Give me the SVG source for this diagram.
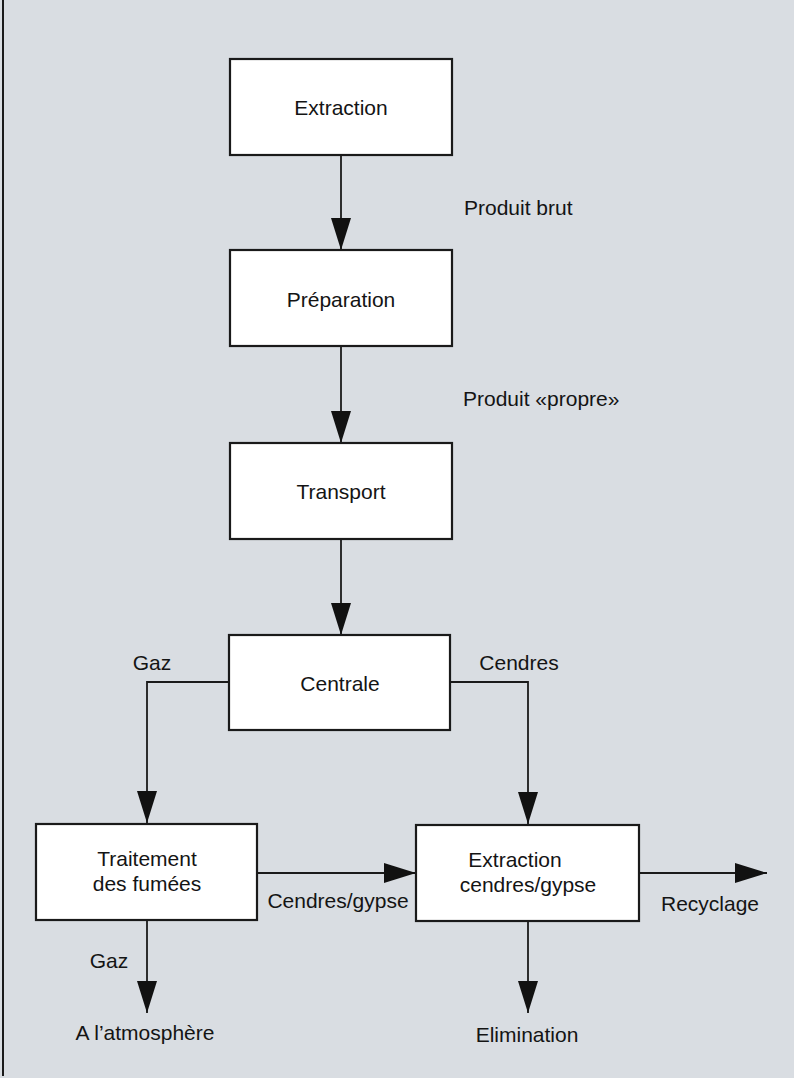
<svg xmlns="http://www.w3.org/2000/svg" width="794" height="1078" viewBox="0 0 794 1078">
<defs>
<style>
.box{fill:#ffffff;stroke:#1a1a1a;stroke-width:2.2}
.ln{fill:none;stroke:#1a1a1a;stroke-width:1.8}
text{font-family:"Liberation Sans",Arial,sans-serif;font-size:21px;fill:#141414}
.c{text-anchor:middle}
</style>
<marker id="ah" markerUnits="userSpaceOnUse" markerWidth="32" markerHeight="22" refX="32" refY="10" orient="auto">
<path d="M0,0 L32,10 L0,20 Z" fill="#111"/>
</marker>
</defs>
<rect x="0" y="0" width="794" height="1078" fill="#d9dde2"/>
<line x1="3" y1="0" x2="3" y2="1076" stroke="#1a1a1a" stroke-width="2"/>

<g id="connectors">
<line class="ln" x1="341" y1="155" x2="341" y2="250" marker-end="url(#ah)"/>
<line class="ln" x1="341" y1="346" x2="341" y2="443" marker-end="url(#ah)"/>
<line class="ln" x1="341" y1="539" x2="341" y2="635" marker-end="url(#ah)"/>
<polyline class="ln" points="229,682 147,682 147,823" marker-end="url(#ah)"/>
<polyline class="ln" points="450,682 528,682 528,824" marker-end="url(#ah)"/>
<line class="ln" x1="257" y1="873" x2="416" y2="873" marker-end="url(#ah)"/>
<line class="ln" x1="639" y1="873" x2="767" y2="873" marker-end="url(#ah)"/>
<line class="ln" x1="147" y1="920" x2="147" y2="1013" marker-end="url(#ah)"/>
<line class="ln" x1="528" y1="921" x2="528" y2="1013" marker-end="url(#ah)"/>
<text x="464" y="215">Produit brut</text>
<text x="463" y="406">Produit  «propre»</text>
<text x="152" y="670" class="c">Gaz</text>
<text x="519" y="670" class="c">Cendres</text>
<text x="338" y="908" class="c">Cendres/gypse</text>
<text x="710" y="911" class="c">Recyclage</text>
<text x="109" y="968" class="c">Gaz</text>
<text x="145" y="1040" class="c">A l’atmosphère</text>
<text x="527" y="1042" class="c">Elimination</text>
</g>

<g id="n-extraction">
<rect class="box" x="230" y="59" width="222" height="96"/>
<text x="341" y="115" class="c">Extraction</text>
</g>
<g id="n-preparation">
<rect class="box" x="230" y="250" width="222" height="96"/>
<text x="341" y="307" class="c">Préparation</text>
</g>
<g id="n-transport">
<rect class="box" x="230" y="443" width="222" height="96"/>
<text x="341" y="499" class="c">Transport</text>
</g>
<g id="n-centrale">
<rect class="box" x="229" y="635" width="221" height="95"/>
<text x="340" y="691" class="c">Centrale</text>
</g>
<g id="n-traitement">
<rect class="box" x="36" y="824" width="221" height="96"/>
<text x="147" y="866" class="c">Traitement</text>
<text x="147" y="891" class="c">des fumées</text>
</g>
<g id="n-extraction-cendres">
<rect class="box" x="416" y="825" width="223" height="96"/>
<text x="515" y="867" class="c">Extraction</text>
<text x="528" y="892" class="c">cendres/gypse</text>
</g>
</svg>
